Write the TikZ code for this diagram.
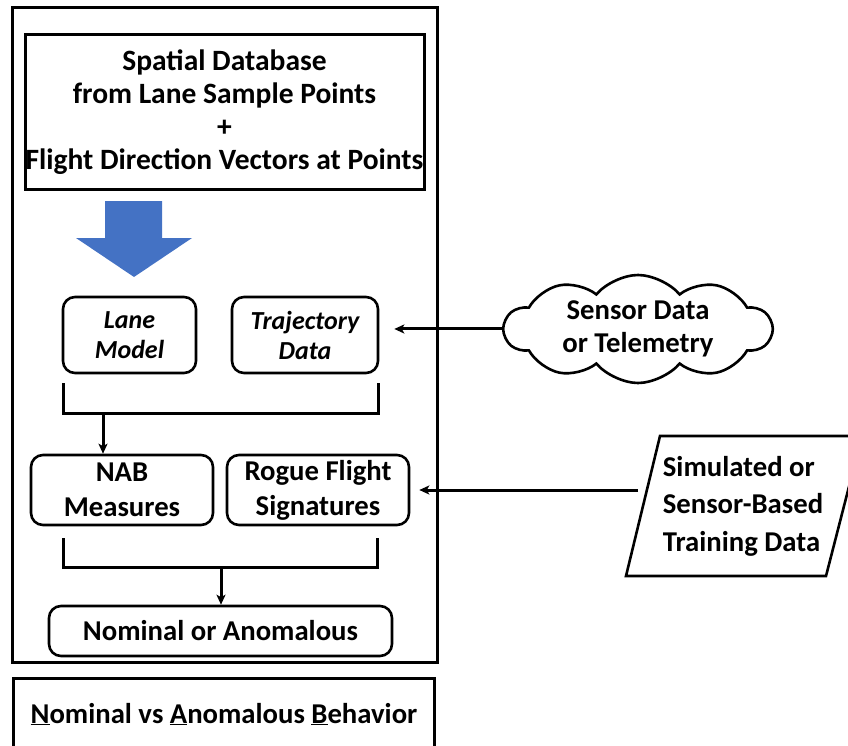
\documentclass[tikz,border=0pt]{standalone}
\usepackage{fontspec}
\setmainfont{Carlito}
\usepackage{tikz}
\usetikzlibrary{arrows.meta}
\usetikzlibrary{shapes.symbols}

\definecolor{blockblue}{RGB}{68,114,196}
\newcommand{\bigbold}{\bfseries\fontsize{28.7}{35}\selectfont}

\tikzset{
  box/.style={draw, line width=2.6pt, rounded corners=12pt, align=center, inner sep=0pt, font=\bigbold},
  link/.style={line width=3pt, -{Stealth[length=10pt,width=9pt,inset=2.5pt]}},
  brace/.style={line width=3pt}
}

\begin{document}
\begin{tikzpicture}[x=1pt, y=-1pt]
    \useasboundingbox (0, 0) rectangle (848, 746);
    % outer frame
    \draw [line width=3pt] (12, 8) rectangle (437, 662);
    \node [draw, line width=3pt, minimum width=399pt, minimum height=155pt, align=center, inner sep=0pt, font=\bfseries\fontsize{29.5}{33}\selectfont] (0) at (224.5, 112.5) {Spatial Database\\from Lane Sample Points\\+\\Flight Direction Vectors at Points};
    % blue arrow
    \fill [blockblue] (105, 201) -- (162, 201) -- (162, 238) -- (192, 238) -- (134, 277) -- (76, 238) -- (105, 238) -- cycle;
    % models
    \node [box, minimum width=133pt, minimum height=76pt, font=\bfseries\itshape\fontsize{26}{30}\selectfont] (1) at (129.5, 335) {Lane\\Model};
    \node [box, minimum width=146pt, minimum height=76pt, font=\bfseries\itshape\fontsize{26}{30}\selectfont] (2) at (305, 335) {Trajectory\\Data};
    \draw [brace] (63, 383) -- (63, 413) -- (378, 413) -- (378, 383);
    \coordinate (5) at (103, 413);
    % measures
    \node [box, minimum width=182pt, minimum height=70pt] (3) at (122, 490) {NAB\\Measures};
    \node [box, minimum width=182pt, minimum height=70pt] (4) at (318, 490) {Rogue Flight\\Signatures};
    \draw [link] (5) -- (5 |- 3.north);
    \draw [brace] (63, 538) -- (63, 567) -- (377, 567) -- (377, 538);
    \coordinate (7) at (221, 567);
    % result
    \node [box, minimum width=343pt, minimum height=50pt] (6) at (220.5, 631) {Nominal or Anomalous};
    \draw [link] (7) -- (7 |- 6.north);
    % inputs
    \node [cloud, draw, line width=2.6pt, cloud puffs=10, cloud puff arc=100, cloud ignores aspect, minimum width=267pt, minimum height=108pt, inner sep=0pt, align=center, font=\bfseries\fontsize{28.7}{33}\selectfont] (8) at (638, 329) {Sensor Data\\or Telemetry};
    \draw [link, shorten >=15pt] (8.west) -- (8.west -| 2.east);
    \draw [line width=2.6pt] (660, 436) -- (862, 436) -- (826, 576) -- (626, 576) -- cycle;
    \node [align=left, inner sep=0pt, font=\bfseries\fontsize{28.7}{37.5}\selectfont] (9) at (743, 506) {Simulated or\\Sensor-Based\\Training Data};
    \coordinate (10) at (638, 490);
    \draw [link, shorten >=9pt] (10) -- (10 -| 4.east);
    % legend
    \draw [line width=3pt] (13, 746) -- (13, 678) -- (434, 678) -- (434, 746);
    \node [font=\bigbold] (11) at (224, 714) {\underline{N}ominal vs \underline{A}nomalous \underline{B}ehavior};
\end{tikzpicture}
\end{document}
